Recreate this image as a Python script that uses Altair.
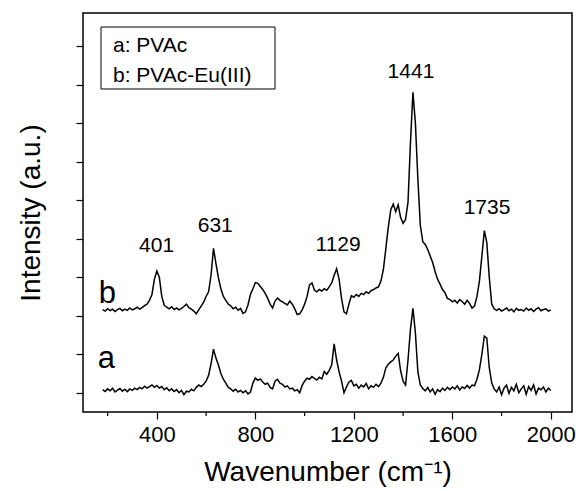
import altair as alt
import pandas as pd

# ---- data (intensity in tick units, a.u.) ----
wavenumber = list(range(180, 2001, 10))

pvac_eu = [  # trace b
    2.16, 2.12, 2.18, 2.13, 2.17, 2.11, 2.16, 2.19, 2.13, 2.17,
    2.14, 2.20, 2.15, 2.18, 2.22, 2.17, 2.21, 2.26, 2.30, 2.40,
    2.55, 2.95, 3.16, 3.00, 2.50, 2.27, 2.22, 2.18, 2.23, 2.16,
    2.20, 2.15, 2.19, 2.24, 2.30, 2.21, 2.17, 2.12, 2.05, 2.15,
    2.25, 2.35, 2.50, 2.62, 3.05, 3.75, 3.35, 2.98, 2.70, 2.50,
    2.40, 2.30, 2.26, 2.18, 2.22, 2.14, 2.19, 2.06, 2.10, 2.28,
    2.55, 2.70, 2.86, 2.84, 2.76, 2.68, 2.58, 2.45, 2.30, 2.20,
    2.38, 2.46, 2.40, 2.36, 2.32, 2.28, 2.38, 2.30, 2.18, 2.03,
    2.05, 2.15, 2.30, 2.50, 2.80, 2.85, 2.66, 2.62, 2.68, 2.64,
    2.70, 2.66, 2.75, 2.85, 3.05, 3.22, 2.95, 2.45, 2.10, 2.05,
    2.30, 2.52, 2.48, 2.55, 2.50, 2.58, 2.55, 2.62, 2.58, 2.65,
    2.68, 2.72, 2.75, 2.90, 3.20, 3.75, 4.30, 4.75, 4.90, 4.70,
    4.88, 4.55, 4.40, 4.50, 4.95, 6.50, 7.80, 7.00, 5.55, 4.35,
    3.92, 3.85, 3.72, 3.55, 3.38, 3.15, 2.95, 2.82, 2.68, 2.60,
    2.45, 2.42, 2.36, 2.40, 2.33, 2.42, 2.37, 2.30, 2.40, 2.32,
    2.20, 2.25, 2.50, 2.90, 3.55, 4.21, 3.90, 3.00, 2.30, 2.18,
    2.14, 2.18, 2.12, 2.16, 2.20, 2.13, 2.17, 2.10, 2.19, 2.14,
    2.16, 2.12, 2.20, 2.14, 2.18, 2.11, 2.17, 2.21, 2.13, 2.16,
    2.18, 2.12, 2.15,
]

pvac = [  # trace a
    0.08, 0.03, 0.10, 0.05, 0.12, 0.02, 0.07, 0.11, 0.04, 0.09,
    0.03, 0.10, 0.06, 0.12, 0.08, 0.14, 0.10, 0.17, 0.12, 0.16,
    0.20, 0.14, 0.19, 0.12, 0.16, 0.08, 0.13, 0.05, 0.10, 0.03,
    0.08, 0.00, 0.06, -0.05, 0.04, 0.02, 0.09, 0.05, 0.14, 0.20,
    0.16, 0.22, 0.30, 0.45, 0.75, 1.13, 0.90, 0.72, 0.50, 0.35,
    0.25, 0.14, 0.10, 0.04, 0.09, 0.02, 0.06, 0.00, 0.05, -0.03,
    0.02, 0.25, 0.38, 0.32, 0.36, 0.28, 0.22, 0.25, 0.14, 0.10,
    0.30, 0.35, 0.25, 0.22, 0.15, 0.18, 0.10, 0.12, 0.05, 0.08,
    0.00, 0.19, 0.30, 0.38, 0.35, 0.42, 0.37, 0.33, 0.40, 0.36,
    0.55, 0.48, 0.58, 0.72, 1.27, 0.85, 0.55, 0.30, 0.00, 0.15,
    0.28, 0.32, 0.18, 0.22, 0.12, 0.20, 0.15, 0.24, 0.10, 0.18,
    0.14, 0.22, 0.16, 0.25, 0.40, 0.65, 0.74, 0.80, 0.85, 0.95,
    1.02, 0.57, 0.30, 0.20, 0.85, 1.65, 2.19, 1.55, 0.55, 0.20,
    0.11, 0.05, 0.14, 0.02, 0.10, -0.04, 0.08, 0.03, 0.12, 0.06,
    0.14, 0.08, 0.15, 0.10, 0.18, 0.07, 0.15, 0.11, 0.19, 0.12,
    0.20, 0.18, 0.35, 0.60, 1.00, 1.47, 1.42, 0.65, 0.25, 0.10,
    0.02, 0.15, -0.05, 0.12, 0.20, -0.02, 0.14, 0.05, 0.22, 0.00,
    0.10, 0.18, -0.04, 0.16, 0.06, 0.20, -0.03, 0.12, 0.08, 0.15,
    0.02, 0.12, 0.06,
]

peak_labels = ["401", "631", "1129", "1441", "1735"]
peak_label_x = [399, 637, 1136, 1432, 1741]
peak_label_y = [3.65, 4.18, 3.69, 8.17, 4.64]

trace_names = ["b", "a"]
trace_name_x = [199, 195]
trace_name_y = [2.33, 0.64]

legend_lines = ["a: PVAc", "b: PVAc-Eu(III)"]

x_major = [400, 800, 1200, 1600, 2000]
x_minor = [200, 600, 1000, 1400, 1800]
y_ticks = list(range(10))

FONT = "Liberation Sans"

df = pd.DataFrame({
    "wn": wavenumber * 2,
    "I": pvac_eu + pvac,
    "series": ["b"] * len(wavenumber) + ["a"] * len(wavenumber),
})

xs = alt.Scale(domain=[100, 2086], nice=False, zero=False)
ys = alt.Scale(domain=[-0.5, 9.86], nice=False, zero=False)

lines = alt.Chart(df).mark_line(color="black", strokeWidth=1.5).encode(
    x=alt.X("wn:Q", scale=xs,
            axis=alt.Axis(values=x_major, title="Wavenumber (cm⁻¹)", format="d",
                          labelFont=FONT, labelFontSize=22, labelColor="black",
                          labelPadding=5, tickSize=7, tickColor="black", tickWidth=1.2,
                          domain=False, grid=False, titleFont=FONT, titleFontSize=28,
                          titleFontWeight="normal", titleColor="black", titlePadding=13)),
    y=alt.Y("I:Q", scale=ys,
            axis=alt.Axis(values=y_ticks, labels=False, title="Intensity (a.u.)",
                          tickSize=7, tickColor="black", tickWidth=1.2, domain=False,
                          grid=False, titleFont=FONT, titleFontSize=28,
                          titleFontWeight="normal", titleColor="black", titlePadding=30)),
    detail="series:N",
)

minor = alt.Chart(pd.DataFrame({"wn": x_minor})).mark_rule(
    color="black", strokeWidth=1.2, clip=False
).encode(x=alt.X("wn:Q", scale=xs), y=alt.value(399), y2=alt.value(403))

peaks = alt.Chart(pd.DataFrame({"t": peak_labels, "x": peak_label_x, "y": peak_label_y})).mark_text(
    font=FONT, fontSize=21, color="black", align="center", baseline="alphabetic"
).encode(x=alt.X("x:Q", scale=xs), y=alt.Y("y:Q", scale=ys), text="t:N")

names = alt.Chart(pd.DataFrame({"t": trace_names, "x": trace_name_x, "y": trace_name_y})).mark_text(
    font=FONT, fontSize=31, color="black", align="center", baseline="alphabetic"
).encode(x=alt.X("x:Q", scale=xs), y=alt.Y("y:Q", scale=ys), text="t:N")

box = alt.Chart(pd.DataFrame({"k": [0]})).mark_rect(
    filled=False, stroke="black", strokeWidth=1
).encode(x=alt.value(18), x2=alt.value(192), y=alt.value(14), y2=alt.value(76))

leg_a = alt.Chart(pd.DataFrame({"t": [legend_lines[0]]})).mark_text(
    font=FONT, fontSize=21, color="black", align="left", baseline="alphabetic"
).encode(x=alt.value(30), y=alt.value(38.5), text="t:N")

leg_b = alt.Chart(pd.DataFrame({"t": [legend_lines[1]]})).mark_text(
    font=FONT, fontSize=21, color="black", align="left", baseline="alphabetic"
).encode(x=alt.value(30), y=alt.value(68.5), text="t:N")

chart = alt.layer(lines, minor, peaks, names, box, leg_a, leg_b).properties(
    width=489, height=399,
    autosize=alt.AutoSizeParams(type="none"),
    padding={"left": 83, "top": 13, "right": 4, "bottom": 79},
    background="white",
).configure_view(stroke="black", strokeWidth=1.5)

chart.save("out.html", embed_options={"renderer": "svg", "actions": False})
